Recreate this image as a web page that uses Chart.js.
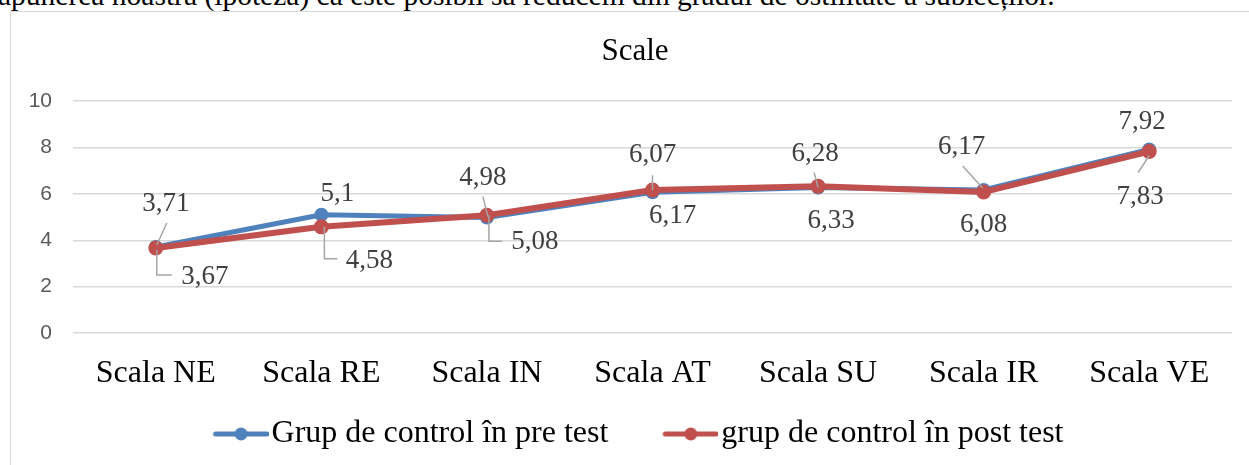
<!DOCTYPE html>
<html lang="ro">
<head>
    <meta charset="UTF-8">
    <title>Scale</title>
    <script src="https://cdnjs.cloudflare.com/ajax/libs/Chart.js/4.4.0/chart.umd.min.js"></script>
    <style>
        html, body { margin: 0; padding: 0; background: #fff; overflow: hidden; }
        body { width: 1249px; height: 465px; position: relative; }
        .page-text {
            position: absolute; left: -2px; top: -19px;
            font: 29.5px "Liberation Serif", "Times New Roman", serif;
            line-height: 1; white-space: nowrap; color: #000;
        }
        .frame {
            position: absolute; left: 10px; top: 11px; width: 1400px; height: 600px;
            border: 1.5px solid #d9d9d9; box-sizing: border-box;
        }
        #scaleChart { position: absolute; left: 0; top: 0; }
    </style>
</head>
<body>
    <div class="page-text">apunerea noastră (ipoteza) că este posibil să reducem din gradul de ostilitate a subiecților.</div>
    <div class="frame"></div>
    <canvas id="scaleChart" width="1249" height="465"></canvas>

    <script>
        // values
        const categories = ['Scala NE', 'Scala RE', 'Scala IN', 'Scala AT', 'Scala SU', 'Scala IR', 'Scala VE'];
        const preTest = [3.71, 5.1, 4.98, 6.07, 6.28, 6.17, 7.92];
        const postTest = [3.67, 4.58, 5.08, 6.17, 6.33, 6.08, 7.83];
        const seriesNames = ['Grup de control în pre test', 'grup de control în post test'];
        const yTicks = [0, 2, 4, 6, 8, 10];

        const BLUE = '#4f81bd';
        const RED = '#c0504d';

        // where Excel put each data label, relative to its point (px)
        const labelPos = [
            [[10, -43], [16, -21], [-4, -40], [0, -37], [-3, -34], [-22, -43], [-7, -28]],
            [[49, 29], [48, 34], [48, 27], [20, 26], [13, 35], [0, 33], [-9, 45]]
        ];
        // leader lines, relative to the point
        const leaders = [
            [[[11, -24], [1, -2]], null, [[-4, -21], [1, -1]], [[0, -17], [0, -2]], [[-4, -15], [0, 0]], [[-21, -24], [-1, -2]], null],
            [[[1, 2], [1, 27], [16, 27]], [[3, 0], [3, 32], [16, 32]], [[2, 0], [2, 26], [15, 26]], null, null, null, [[0, 4], [-11, 21]]]
        ];

        function fmt(v) {
            return String(v).replace('.', ',');
        }

        // little line-with-dot picture for the legend
        function legendMark(color) {
            const c = document.createElement('canvas');
            c.width = 113;
            c.height = 16;
            const g = c.getContext('2d');
            g.strokeStyle = color;
            g.lineWidth = 5;
            g.lineCap = 'round';
            g.beginPath();
            g.moveTo(60, 8);
            g.lineTo(111, 8);
            g.stroke();
            g.fillStyle = color;
            g.beginPath();
            g.arc(85.5, 8, 6.5, 0, Math.PI * 2);
            g.fill();
            return c;
        }

        // the title sits centred on the whole frame, not on the canvas minus padding
        const shiftTitle = {
            id: 'shiftTitle',
            afterLayout(chart) {
                if (chart.titleBlock) {
                    chart.titleBlock.left += 19;
                    chart.titleBlock.right += 19;
                }
            }
        };

        const dataLabels = {
            id: 'dataLabels',
            afterDatasetsDraw(chart) {
                const ctx = chart.ctx;
                ctx.save();
                [0, 1].forEach(d => {
                    const meta = chart.getDatasetMeta(d);
                    const values = chart.data.datasets[d].data;
                    meta.data.forEach((pt, i) => {
                        const lead = leaders[d][i];
                        if (lead) {
                            ctx.strokeStyle = '#a6a6a6';
                            ctx.lineWidth = 1.5;
                            ctx.beginPath();
                            lead.forEach((p, k) => {
                                if (k === 0) ctx.moveTo(pt.x + p[0], pt.y + p[1]);
                                else ctx.lineTo(pt.x + p[0], pt.y + p[1]);
                            });
                            ctx.stroke();
                        }
                        const [dx, dy] = labelPos[d][i];
                        ctx.fillStyle = '#404040';
                        ctx.font = '27px "Liberation Serif", serif';
                        ctx.textAlign = 'center';
                        ctx.textBaseline = 'middle';
                        ctx.fillText(fmt(values[i]), pt.x + dx, pt.y + dy);
                    });
                });
                ctx.restore();
            }
        };

        new Chart(document.getElementById('scaleChart').getContext('2d'), {
            type: 'line',
            data: {
                labels: categories,
                datasets: [{
                    label: seriesNames[0],
                    data: preTest,
                    borderColor: BLUE,
                    backgroundColor: BLUE,
                    borderWidth: 5,
                    pointRadius: 7,
                    pointBorderWidth: 0,
                    pointBackgroundColor: BLUE,
                    tension: 0,
                    order: 1
                }, {
                    label: seriesNames[1],
                    data: postTest,
                    borderColor: RED,
                    backgroundColor: RED,
                    borderWidth: 6,
                    pointRadius: 7.5,
                    pointBorderWidth: 0,
                    pointBackgroundColor: RED,
                    tension: 0,
                    order: 0
                }]
            },
            options: {
                responsive: false,
                animation: false,
                events: [],
                layout: { padding: { left: 0, right: 17, top: 0, bottom: 5 } },
                plugins: {
                    title: {
                        display: true,
                        text: 'Scale',
                        color: '#000',
                        font: { family: '"Liberation Serif", serif', size: 31, weight: 'normal' },
                        padding: { top: 33, bottom: 31 }
                    },
                    legend: {
                        position: 'bottom',
                        labels: {
                            color: '#000',
                            font: { family: '"Liberation Serif", serif', size: 32 },
                            usePointStyle: true,
                            pointStyleWidth: 87,
                            padding: 10,
                            generateLabels: () => [BLUE, RED].map((c, i) => ({
                                text: seriesNames[i],
                                pointStyle: legendMark(c),
                                fillStyle: c,
                                strokeStyle: c,
                                lineWidth: 0,
                                hidden: false,
                                datasetIndex: i
                            }))
                        }
                    },
                    tooltip: { enabled: false }
                },
                scales: {
                    x: {
                        offset: true,
                        grid: { display: false },
                        border: { display: false },
                        ticks: {
                            color: '#000',
                            font: { family: '"Liberation Serif", serif', size: 32 },
                            padding: 13,
                            maxRotation: 0
                        },
                        afterFit: s => { s.height = 75; }
                    },
                    y: {
                        min: 0,
                        max: 10,
                        afterBuildTicks: s => { s.ticks = yTicks.map(v => ({ value: v })); },
                        grid: { color: '#d9d9d9', lineWidth: 1.5, drawTicks: false },
                        border: { display: false },
                        ticks: {
                            color: '#595959',
                            font: { family: '"Liberation Sans", sans-serif', size: 21 },
                            padding: 21
                        },
                        afterFit: s => { s.width = 73; }
                    }
                }
            },
            plugins: [dataLabels, shiftTitle]
        });
    </script>
</body>
</html>
